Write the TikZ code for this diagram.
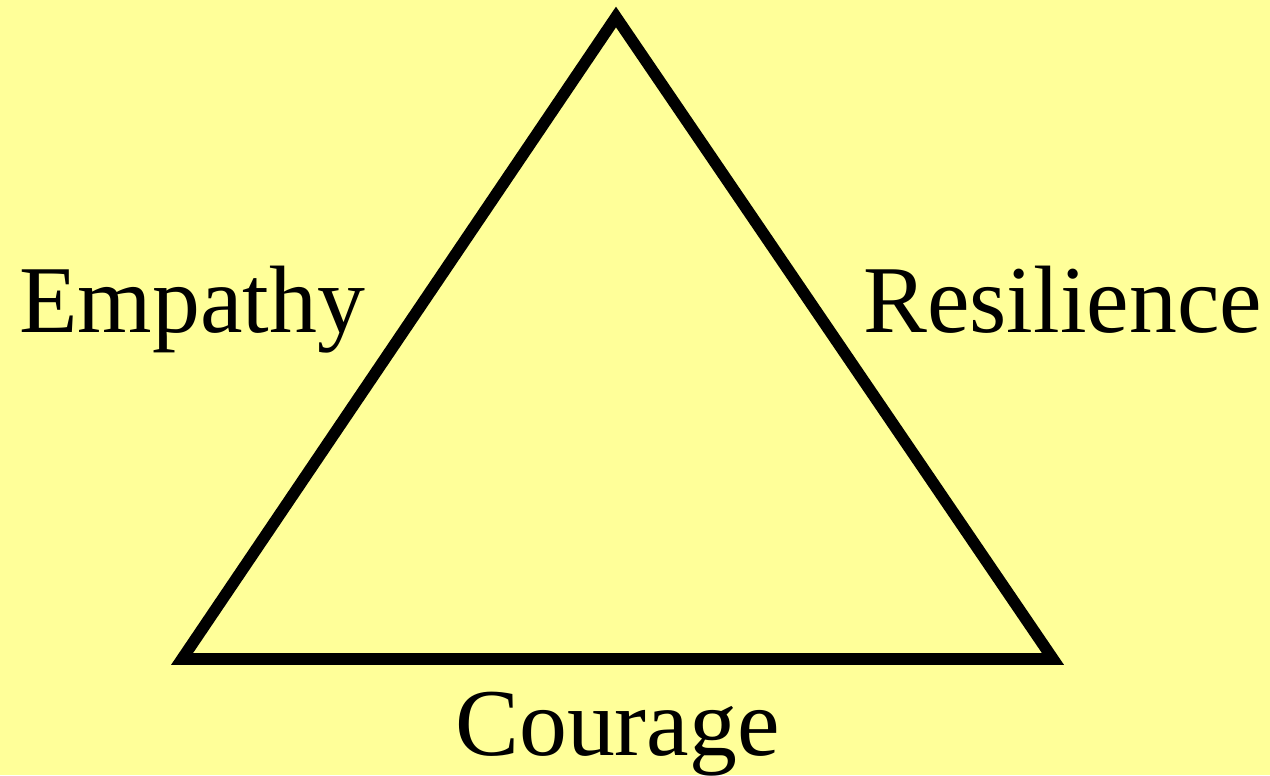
\documentclass[tikz,border=0pt]{standalone}
\usepackage{fontspec}
\setmainfont{Liberation Serif}
\usetikzlibrary{positioning}
\definecolor{paleyellow}{HTML}{FFFF99}

\begin{document}
\begin{tikzpicture}[
  x=0.02cm, y=-0.02cm,
  edge/.style={draw=black, line width=6.6pt, miter limit=10, line join=miter},
  word/.style={font=\fontsize{54.5}{60}\selectfont, inner sep=0pt, anchor=base west}
]
% ================= BACKGROUND =================
\fill[paleyellow] (0,0) rectangle (1270,775);
\useasboundingbox (0,0) rectangle (1270,775);

% ================= TRIANGLE =================
\coordinate (top) at (616,17);
\coordinate (bl) at (182,659);
\coordinate (br) at (1053,659);
\draw[edge] (top) -- (br) -- (bl) -- cycle;

% ================= LABELS =================
\node[word] (emp) at (19,332) {Empathy};
\node[word] (res) at (863,332) {Resilience};
\node[word] (cou) at (455,755) {Courage};
\end{tikzpicture}
\end{document}
